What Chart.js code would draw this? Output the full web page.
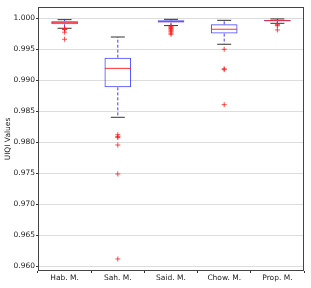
<!DOCTYPE html>
<html><head><meta charset="utf-8">
<script src="https://cdn.jsdelivr.net/npm/chart.js@4/dist/chart.umd.min.js"></script>
<style>html,body{margin:0;padding:0;background:#fff}#wrap{width:311px;height:288px}</style>
</head><body><div id="wrap"><canvas id="c" width="311" height="288"></canvas></div>
<script>
const categories = ['Hab. M.', 'Sah. M.', 'Said. M.', 'Chow. M.', 'Prop. M.'];
const whiskerLow  = [0.99839, 0.98403, 0.99882, 0.99581, 0.99919];
const q1          = [0.99903, 0.98886, 0.99930, 0.99753, 0.99952];
const median      = [0.99935, 0.99192, 0.99946, 0.99823, 0.99962];
const q3          = [0.99952, 0.99364, 0.99967, 0.99903, 0.99973];
const whiskerHigh = [0.99978, 0.99698, 0.99983, 0.99967, 0.99989];
const outliers = [
  [0.99832, 0.99828, 0.99822, 0.99818, 0.99776, 0.99662],
  [0.98122, 0.98092, 0.98076, 0.97956, 0.97489, 0.96118],
  [0.99866, 0.99852, 0.99836, 0.99822, 0.99800, 0.99782, 0.99760, 0.99742],
  [0.99500, 0.99185, 0.99172, 0.98607],
  [0.99909, 0.99895, 0.99880, 0.99812]
];
const yTicks = [0.960, 0.965, 0.970, 0.975, 0.980, 0.985, 0.990, 0.995, 1.000];
const yLabel = 'UIQI Values';

const whiskerData = [];
categories.forEach((c, i) => {
  whiskerData.push({x: c, y: q3[i]}, {x: c, y: whiskerHigh[i]}, {x: c, y: null});
  whiskerData.push({x: c, y: q1[i]}, {x: c, y: whiskerLow[i]}, {x: c, y: null});
});
const capData = [];
categories.forEach((c, i) => { capData.push({x: c, y: whiskerHigh[i]}, {x: c, y: whiskerLow[i]}); });
const medianData = categories.map((c, i) => ({x: c, y: median[i]}));
const outlierData = [];
categories.forEach((c, i) => outliers[i].forEach(v => outlierData.push({x: c, y: v})));

const frame = {
  id: 'frame',
  afterDatasetsDraw(chart) {
    const a = chart.chartArea, ctx = chart.ctx;
    ctx.save();
    ctx.strokeStyle = '#444';
    ctx.lineWidth = 1;
    ctx.strokeRect(Math.round(a.left) + 0.5, Math.round(a.top) + 0.5, Math.round(a.right - a.left) - 1, Math.round(a.bottom - a.top) - 1);
    ctx.restore();
  }
};

new Chart(document.getElementById('c'), {
  data: {
    labels: categories,
    datasets: [
      { type: 'line', data: whiskerData, borderColor: 'rgba(40,40,255,0.9)', borderWidth: 1,
        borderDash: [3, 2], pointRadius: 0, spanGaps: false, order: 5 },
      { type: 'bar', data: categories.map((c, i) => [q1[i], q3[i]]), backgroundColor: 'rgba(255,255,255,0)',
        borderColor: 'rgba(40,40,255,0.85)', borderWidth: 1, borderSkipped: false,
        barPercentage: 0.5, categoryPercentage: 1, order: 4 },
      { type: 'line', data: capData, showLine: false, pointStyle: 'line', pointRadius: 7,
        borderColor: '#333', pointBorderColor: '#333', pointBorderWidth: 1, order: 3 },
      { type: 'line', data: medianData, showLine: false, pointStyle: 'line', pointRadius: 13,
        pointBorderColor: 'rgba(255,40,40,0.95)', pointBorderWidth: 1, order: 2 },
      { type: 'line', data: outlierData, showLine: false, pointStyle: 'cross', pointRadius: 2.5,
        pointBorderColor: 'rgba(255,30,30,0.8)', pointBorderWidth: 1, order: 1 }
    ]
  },
  options: {
    responsive: false,
    animation: false,
    layout: { autoPadding: false, padding: { left: 0, top: 7, right: 7, bottom: 0 } },
    plugins: { legend: { display: false }, tooltip: { enabled: false } },
    font: { family: 'DejaVu Sans' },
    scales: {
      x: {
        type: 'category', offset: true,
        border: { display: false },
        grid: { drawOnChartArea: false, tickLength: 2, tickColor: '#333' },
        ticks: { color: '#222', font: { family: 'DejaVu Sans', size: 7.5 }, padding: 1, maxRotation: 0 },
        afterFit(s) { s.height = 17; s.paddingLeft = 0; s.paddingRight = 0; }
      },
      y: {
        type: 'linear', min: 0.95924, max: 1.00182,
        border: { display: false },
        grid: { color: '#dddddd', tickLength: 2, tickColor: '#333' },
        ticks: { color: '#222', font: { family: 'DejaVu Sans', size: 7.5 }, padding: 1,
                 callback: v => v.toFixed(3) },
        afterBuildTicks(s) { s.ticks = yTicks.map(v => ({ value: v })); },
        title: { display: true, text: yLabel, color: '#222', font: { family: 'DejaVu Sans', size: 7.5 },
                 padding: { top: 4, bottom: 0 } },
        afterFit(s) { s.width = 38; s.paddingTop = 0; s.paddingBottom = 0; }
      }
    }
  },
  plugins: [frame]
});
</script></body></html>
